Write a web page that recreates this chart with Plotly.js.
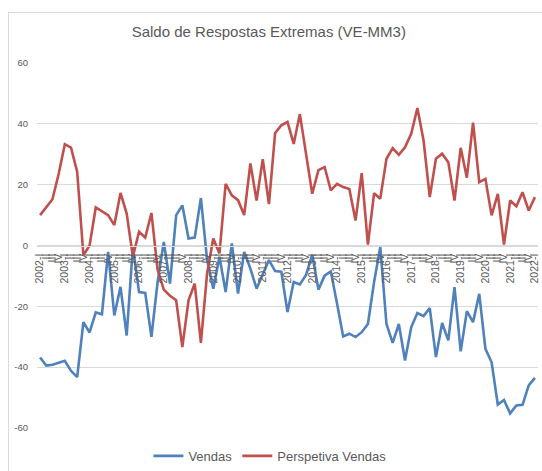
<!DOCTYPE html>
<html>
<head>
<meta charset="utf-8">
<script src="https://cdn.plot.ly/plotly-3.0.1.min.js"></script>
<style>
  body { margin: 0; background: #fff; }
  #wrap { position: relative; width: 542px; height: 471px; overflow: hidden; }
  #chart { position: absolute; left: 0; top: 0; width: 542px; height: 471px; }
  #frame { position: absolute; left: 8px; top: 12px; width: 600px; height: 520px;
           border: 1px solid #d9d9d9; pointer-events: none; }
</style>
</head>
<body>
<div id="wrap">
  <div id="chart"></div>
  <div id="frame"></div>
</div>
<script>
  // quarterly balances, 2002-I .. 2022-I
  const years = [2002, 2003, 2004, 2005, 2006, 2007, 2008, 2009, 2010, 2011, 2012,
                 2013, 2014, 2015, 2016, 2017, 2018, 2019, 2020, 2021, 2022];
  const quarters = ['I', 'II', 'III', 'IV'];

  const vendas = [
    -36.8, -39.5, -39.2, -38.5, -37.9, -41.2, -43.3, -25.2, -28.6, -22.0,
    -22.6, -2.1, -23.0, -13.6, -29.6, -0.5, -15.3, -15.6, -30.0, -12.0,
    1.2, -12.5, 10.0, 13.2, 2.3, 2.6, 15.6, -4.8, -14.2, -3.7,
    -15.3, 0.7, -15.8, -2.1, -7.6, -14.2, -9.2, -4.8, -8.4, -8.6,
    -21.9, -12.0, -12.8, -9.7, -3.0, -14.5, -9.9, -8.5, -19.0, -29.9,
    -29.0, -30.1, -28.5, -25.8, -12.0, -0.5, -25.8, -32.0, -25.8, -37.8,
    -26.9, -22.2, -23.2, -20.6, -36.7, -25.5, -31.2, -13.7, -34.8, -21.6,
    -25.2, -15.9, -34.0, -38.4, -52.3, -50.8, -55.2, -52.6, -52.4, -46.0,
    -43.5
  ];

  const perspetiva = [
    10.0, 12.5, 15.2, 23.5, 33.3, 32.2, 24.2, -3.2, 0.0, 12.5,
    11.3, 10.0, 6.7, 17.3, 10.5, -3.7, 4.5, 2.6, 10.7, -8.0,
    -14.5, -16.5, -18.0, -33.4, -18.0, -12.5, -32.0, -9.2, 2.3, -2.6,
    20.3, 16.5, 14.9, 10.0, 27.0, 14.8, 28.4, 13.6, 37.0, 39.5,
    40.6, 33.4, 43.2, 30.2, 17.0, 24.8, 25.8, 18.1, 20.3, 19.2,
    18.6, 8.2, 23.8, 0.3, 17.2, 15.4, 28.5, 32.0, 29.8, 32.3,
    36.7, 45.2, 34.5, 15.9, 28.5, 30.2, 27.4, 14.8, 32.1, 22.3,
    40.4, 20.8, 21.9, 9.9, 17.0, 0.3, 14.8, 12.9, 17.5, 11.5,
    15.9
  ];

  // category labels: "2002-I", "II", "III", "IV", "2003-I", ...
  const tickLabels = [];
  years.forEach(y => {
    quarters.forEach(q => {
      if (tickLabels.length < vendas.length) {
        tickLabels.push(q === 'I' ? y + '-I' : q);
      }
    });
  });
  const idx = vendas.map((_, i) => i);

  const grey = '#595959';
  const gridCol = '#d9d9d9';

  const data = [
    {
      x: idx, y: vendas, name: 'Vendas', type: 'scatter', mode: 'lines',
      line: { color: '#4F81BD', width: 2.6 }
    },
    {
      x: idx, y: perspetiva, name: 'Perspetiva Vendas', type: 'scatter', mode: 'lines',
      line: { color: '#C0504D', width: 2.6 }
    }
  ];

  const layout = {
    width: 542,
    height: 471,
    margin: { l: 37, r: 4, t: 63, b: 43 },
    paper_bgcolor: 'rgba(0,0,0,0)',
    plot_bgcolor: '#fff',
    font: { family: 'Liberation Sans, Arial, sans-serif', color: grey },
    showlegend: true,
    title: {
      text: 'Saldo de Respostas Extremas (VE-MM3)',
      font: { size: 15, color: grey },
      xref: 'container', x: 0.496, xanchor: 'center',
      yref: 'container', y: 0.932, yanchor: 'middle'
    },
    xaxis: {
      range: [-0.5, vendas.length - 0.5],
      tickmode: 'array',
      tickvals: idx,
      ticktext: tickLabels,
      tickangle: -90,
      ticks: '',
      tickfont: { size: 10.5, color: grey },
      showgrid: false,
      zeroline: false,
      showline: true,
      linecolor: gridCol,
      linewidth: 1,
      anchor: 'free',
      position: 0.5,
      ticklabelstandoff: 3,
      fixedrange: true
    },
    yaxis: {
      range: [-60, 60],
      tickvals: [-60, -40, -20, 0, 20, 40, 60],
      ticktext: ['-60', '-40', '-20', '0', '20', '40', '60'],
      ticks: '',
      tickfont: { size: 9.5, color: grey },
      showgrid: true,
      gridcolor: gridCol,
      gridwidth: 1,
      zeroline: false,
      showline: false,
      ticklabelstandoff: 8,
      fixedrange: true
    },
    legend: {
      orientation: 'h',
      xref: 'container', x: 0.498, xanchor: 'center',
      yref: 'container', y: 0.032, yanchor: 'middle',
      font: { size: 13, color: grey },
      itemwidth: 30,
      tracegroupgap: 0
    },
    hovermode: false
  };

  Plotly.newPlot('chart', data, layout, { displayModeBar: false, staticPlot: true });
</script>
</body>
</html>
